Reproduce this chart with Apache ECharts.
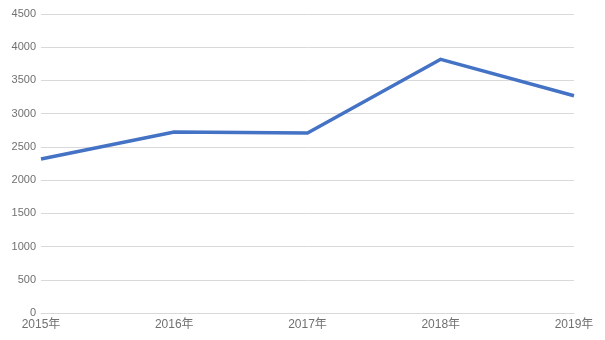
<!DOCTYPE html>
<html><head><meta charset="utf-8">
<script src="https://cdn.jsdelivr.net/npm/echarts@6/dist/echarts.min.js"></script>
<style>html,body{margin:0;padding:0;background:#fff}#c{width:605px;height:340px}</style>
</head><body><div id="c"></div>
<script>
const categories = ['2015年','2016年','2017年','2018年','2019年'];
const values = [2318, 2724, 2709, 3818, 3270];
const yTicks = {min: 0, max: 4500, interval: 500};

const chart = echarts.init(document.getElementById('c'));
chart.setOption({
  animation: false,
  grid: {left: 41, right: 31, top: 14, bottom: 27},
  xAxis: {
    type: 'category', data: categories, boundaryGap: false,
    axisLine: {lineStyle: {color: '#d9d9d9'}},
    axisTick: {show: false},
    axisLabel: {color: '#707070', fontSize: 12, fontFamily: 'Liberation Sans, Noto Sans CJK SC', margin: 6}
  },
  yAxis: {
    type: 'value', min: yTicks.min, max: yTicks.max, interval: yTicks.interval,
    axisLine: {show: false}, axisTick: {show: false},
    splitLine: {lineStyle: {color: '#d9d9d9'}},
    axisLabel: {color: '#707070', fontSize: 11, fontFamily: 'Liberation Sans', margin: 5,
      formatter: v => String(v)}
  },
  series: [{
    type: 'line', data: values, symbol: 'none',
    lineStyle: {color: '#4472C4', width: 3.5, join: 'round'}
  }]
});
</script></body></html>
